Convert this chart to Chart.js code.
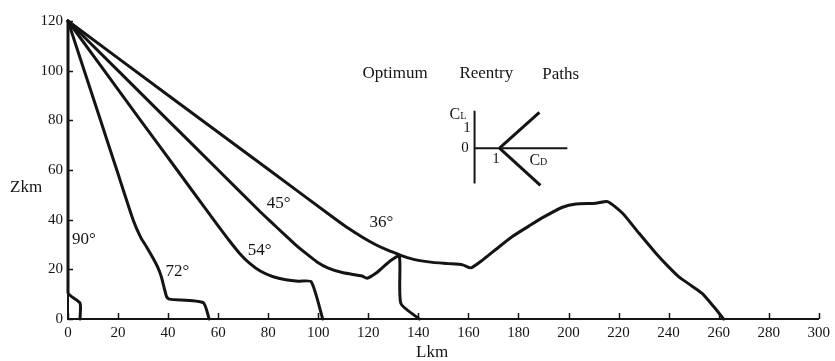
<!DOCTYPE html>
<html lang="en">
<head>
<meta charset="utf-8">
<title>Optimum Reentry Paths</title>
<script src="https://cdn.jsdelivr.net/npm/chart.js@4.4.1/dist/chart.umd.min.js"></script>
<style>
    html, body { margin: 0; padding: 0; background: #fff; }
    #wrap { width: 835px; height: 361px; }
</style>
</head>
<body>
<div id="wrap"><canvas id="reentryChart" width="835" height="361"></canvas></div>
<script>
// Entry flight-path angle of each path (all start at L = 0, Z = 120 km)
const angleLabels = ['90°', '72°', '54°', '45°', '36°'];

// Ground range L (km) and altitude Z (km) along each path
const path90L = [0, 0, 4.8, 4.8];
const path90Z = [120, 10.6, 6.4, 0];

const path72L = [0, 13, 19.5, 26, 29, 31.4, 34, 35.8, 37.3, 39.4, 40.5, 54, 56.4];
const path72Z = [120, 80, 60, 40, 33, 29, 24.5, 21, 17, 9, 8, 6.6, 0];

const path54L = [0, 29, 43.6, 55, 60, 64.5, 68.5, 72.5, 77, 82, 87, 92, 97.2, 101.8];
const path54Z = [120, 80, 60, 44.3, 37.5, 31.5, 26.5, 22.5, 19.2, 17, 15.8, 15.2, 15, 0];

const path45L = [0, 40, 60, 76, 81, 86, 90.5, 95, 99.5, 104, 110, 117.5, 119.5, 123, 126, 128.5, 132.4, 133, 140.4];
const path45Z = [120, 80, 60, 44, 39.2, 34.5, 30.3, 26.5, 23, 20.5, 18.6, 17.3, 16.4, 18.4, 21, 23.2, 25.3, 6.3, 0];

const path36L = [0, 40, 80, 106, 112.5, 118, 123, 128, 132.4, 136, 140, 145.7, 152, 157.7, 161,
    166, 172.3, 178, 184.3, 190, 197.6, 203, 210.9, 215.6, 221.6, 228.2, 234.9, 240, 244.1, 249, 253.4, 258, 262];
const path36Z = [120, 90.1, 60.3, 40.9, 36.2, 32.7, 29.9, 27.6, 25.9, 24.6, 23.6, 22.8, 22.3, 21.8, 20.6,
    24, 29.1, 33.5, 37.5, 41, 45, 46.3, 46.6, 47.3, 42.6, 34.5, 26.5, 21, 17, 13.5, 10.3, 5, 0];

// Axis ticks
const lTicks = [0, 20, 40, 60, 80, 100, 120, 140, 160, 180, 200, 220, 240, 260, 280, 300];
const zTicks = [0, 20, 40, 60, 80, 100, 120];

// Inset: aerodynamic coefficient sketch (CD horizontal, CL vertical)
const insetClAxisCD = [0, 0];
const insetClAxisCL = [1.5, -1.42];
const insetCdAxisCD = [0, 3.72];
const insetCdAxisCL = [0, 0];
const insetUpperCD = [1, 2.6];
const insetUpperCL = [0, 1.44];
const insetLowerCD = [1, 2.64];
const insetLowerCL = [0, -1.49];

const INK = '#141414';
const SERIF = "'Liberation Serif', 'DejaVu Serif', serif";

/**
 * Junta duas listas (x e y) em pontos {x, y} para o Chart.js.
 */
function toPoints(xs, ys) {
    return xs.map((v, i) => ({ x: v, y: ys[i] }));
}

function pathDataset(label, xs, ys) {
    return {
        label: label,
        data: toPoints(xs, ys),
        borderColor: INK,
        borderWidth: 3,
        pointRadius: 0,
        tension: 0.2,
        borderJoinStyle: 'round',
        borderCapStyle: 'round',
        clip: false,
        fill: false
    };
}

function insetDataset(label, xs, ys, width) {
    return {
        label: label,
        data: toPoints(xs, ys),
        xAxisID: 'cd',
        yAxisID: 'cl',
        borderColor: INK,
        borderWidth: width,
        pointRadius: 0,
        tension: 0,
        borderCapStyle: 'butt',
        fill: false
    };
}

/**
 * Writes text with a small subscript right after it (C_L, C_D).
 */
function drawSubscripted(ctx, main, sub, px, py) {
    ctx.font = `16px ${SERIF}`;
    ctx.textAlign = 'left';
    ctx.fillText(main, px, py);
    const w = ctx.measureText(main).width;
    ctx.font = `10px ${SERIF}`;
    ctx.fillText(sub, px + w, py + 2);
}

// Inward tick marks, angle labels, axis names, heading and inset labels
const annotationPlugin = {
    id: 'reentryAnnotations',
    afterDatasetsDraw(chart) {
        const { ctx, chartArea, scales } = chart;
        const { x, y, cd, cl } = scales;
        ctx.save();

        ctx.strokeStyle = INK;
        ctx.lineWidth = 1.5;
        ctx.beginPath();
        lTicks.forEach(v => {
            const px = Math.round(x.getPixelForValue(v)) + 0.5;
            ctx.moveTo(px, chartArea.bottom);
            ctx.lineTo(px, chartArea.bottom - 6);
        });
        zTicks.forEach(v => {
            const py = Math.round(y.getPixelForValue(v)) + 0.5;
            ctx.moveTo(chartArea.left, py);
            ctx.lineTo(chartArea.left + 5, py);
        });
        ctx.stroke();

        ctx.fillStyle = INK;
        ctx.textBaseline = 'middle';
        ctx.textAlign = 'left';

        // flight-path angle labels, anchored in (L, Z)
        const angleAnchors = [[1.6, 31.8], [39, 19], [71.8, 27.4], [79.4, 46.3], [120.5, 38.7]];
        ctx.font = `17px ${SERIF}`;
        angleLabels.forEach((txt, i) => {
            const [l, z] = angleAnchors[i];
            ctx.fillText(txt, x.getPixelForValue(l), y.getPixelForValue(z));
        });

        // axis names
        ctx.font = `17px ${SERIF}`;
        ctx.fillText('Zkm', 10, y.getPixelForValue(53));
        ctx.textAlign = 'center';
        ctx.fillText('Lkm', x.getPixelForValue(145.5), chartArea.bottom + 34);

        // heading
        ctx.textAlign = 'left';
        ctx.font = `17px ${SERIF}`;
        ctx.fillText('Optimum', x.getPixelForValue(117.7), y.getPixelForValue(98.7));
        ctx.fillText('Reentry', x.getPixelForValue(156.4), y.getPixelForValue(98.9));
        ctx.fillText('Paths', x.getPixelForValue(189.5), y.getPixelForValue(98.5));

        // inset labels, anchored in (CD, CL)
        drawSubscripted(ctx, 'C', 'L', cd.getPixelForValue(-1.0), cl.getPixelForValue(1.35));
        drawSubscripted(ctx, 'C', 'D', cd.getPixelForValue(2.2), cl.getPixelForValue(-0.5));
        ctx.font = `15px ${SERIF}`;
        ctx.textAlign = 'center';
        ctx.fillText('1', cd.getPixelForValue(-0.3), cl.getPixelForValue(0.82));
        ctx.fillText('0', cd.getPixelForValue(-0.38), cl.getPixelForValue(0.02));
        ctx.fillText('1', cd.getPixelForValue(0.86), cl.getPixelForValue(-0.42));

        ctx.restore();
    }
};

/**
 * Monta o gráfico das trajetórias de reentrada.
 */
function renderReentryChart() {
    const ctx = document.getElementById('reentryChart').getContext('2d');

    const tickFont = { family: SERIF, size: 15 };

    new Chart(ctx, {
        type: 'line',
        data: {
            datasets: [
                pathDataset(angleLabels[0], path90L, path90Z),
                pathDataset(angleLabels[1], path72L, path72Z),
                pathDataset(angleLabels[2], path54L, path54Z),
                pathDataset(angleLabels[3], path45L, path45Z),
                pathDataset(angleLabels[4], path36L, path36Z),
                insetDataset('CL axis', insetClAxisCD, insetClAxisCL, 2),
                insetDataset('CD axis', insetCdAxisCD, insetCdAxisCL, 2),
                insetDataset('upper', insetUpperCD, insetUpperCL, 3),
                insetDataset('lower', insetLowerCD, insetLowerCL, 3)
            ]
        },
        options: {
            responsive: false,
            animation: false,
            layout: { padding: { top: 21, right: 15, left: 0, bottom: 0 } },
            plugins: {
                legend: { display: false },
                tooltip: { enabled: false }
            },
            scales: {
                x: {
                    type: 'linear',
                    position: 'bottom',
                    min: 0,
                    max: 300,
                    afterFit(scale) { scale.height = 42; },
                    afterBuildTicks(scale) { scale.ticks = lTicks.map(v => ({ value: v })); },
                    ticks: { padding: 5, font: tickFont, color: INK, maxRotation: 0, autoSkip: false },
                    grid: { display: false, drawTicks: false },
                    border: { color: INK, width: 2 }
                },
                y: {
                    type: 'linear',
                    position: 'left',
                    min: 0,
                    max: 120,
                    afterFit(scale) { scale.width = 68; },
                    afterBuildTicks(scale) { scale.ticks = zTicks.map(v => ({ value: v })); },
                    ticks: { padding: 5, font: tickFont, color: INK },
                    grid: { display: false, drawTicks: false },
                    border: { color: INK, width: 2 }
                },
                cd: { type: 'linear', axis: 'x', position: 'bottom', display: false, min: -16.3, max: 13.8 },
                cl: { type: 'linear', axis: 'y', position: 'left', display: false, min: -6.85, max: 5.1 }
            }
        },
        plugins: [annotationPlugin]
    });
}

renderReentryChart();
</script>
</body>
</html>
